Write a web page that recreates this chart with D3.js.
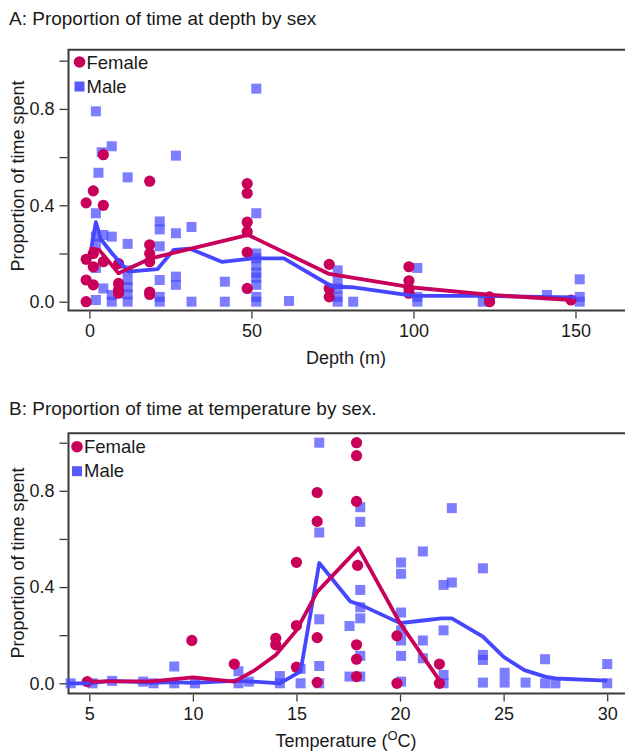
<!DOCTYPE html>
<html>
<head>
<meta charset="utf-8">
<script src="https://cdn.jsdelivr.net/npm/d3@7.9.0/dist/d3.min.js"></script>
<style>
  html, body { margin: 0; padding: 0; background: #fff; }
  svg { display: block; font-family: 'Liberation Sans', Arial, sans-serif; }
</style>
</head>
<body>
<div id="chart"></div>
<script>
// ---- data: panel A (depth, m) ----
const depthFemale = [
  [-1, 0.41], [-1, 0.176], [-1, 0.09], [-1, 0.0],
  [1.2, 0.46], [1.2, 0.2], [1.2, 0.145], [1.2, 0.07],
  [4.3, 0.61], [4.3, 0.4], [4.3, 0.166],
  [9, 0.158], [9, 0.076], [9, 0.05], [9, 0.035],
  [18.6, 0.5], [18.6, 0.236], [18.6, 0.2], [18.6, 0.166], [18.6, 0.04], [18.6, 0.03],
  [48.7, 0.49], [48.7, 0.45], [48.7, 0.33], [48.7, 0.29], [48.7, 0.205], [48.7, 0.055],
  [74, 0.155], [74, 0.055], [74, 0.02],
  [98.6, 0.145], [98.6, 0.087], [98.6, 0.055], [98.6, 0.035],
  [123.5, 0.02], [123.5, 0.0],
  [148.6, 0.007]
];
const depthMale = [
  [2, 0.79], [2, 0.367], [2, 0.27], [2, 0.24], [2, 0.14], [2, 0.007],
  [3.8, 0.62], [2.8, 0.535], [4.3, 0.277], [4.3, 0.055],
  [6.9, 0.645], [6.9, 0.27], [6.9, 0.028], [6.9, 0.0],
  [11.8, 0.516], [11.8, 0.24], [11.8, 0.13], [11.8, 0.09], [11.8, 0.06], [11.8, 0.03], [11.8, 0.0],
  [21.7, 0.333], [21.7, 0.3], [21.7, 0.23], [21.7, 0.09], [21.7, 0.02], [21.7, 0.0],
  [26.7, 0.606], [26.7, 0.284], [26.7, 0.104], [26.7, 0.07],
  [31.5, 0.31], [31.5, 0.0],
  [41.8, 0.083], [41.8, 0.0],
  [51.5, 0.884], [51.5, 0.367], [51.5, 0.2], [51.5, 0.18], [51.5, 0.15], [51.5, 0.12],
  [51.5, 0.1], [51.5, 0.07], [51.5, 0.02], [51.5, 0.0],
  [61.6, 0.003],
  [76.6, 0.13], [76.6, 0.09], [76.6, 0.055], [76.6, 0.02], [76.6, 0.0],
  [81.4, 0.0],
  [101.2, 0.14], [101.2, 0.02], [101.2, 0.0],
  [121.4, 0.0],
  [141.2, 0.028],
  [151.3, 0.093], [151.3, 0.02], [151.3, 0.0]
];
const depthFemaleLine = [
  [0, 0.222], [3, 0.215], [9, 0.118], [19, 0.18], [49, 0.277],
  [74, 0.115], [99, 0.06], [124, 0.028], [149, 0.007]
];
const depthMaleLine = [
  [0.7, 0.23], [2, 0.33], [3.5, 0.26], [7, 0.2], [12, 0.125], [21, 0.135],
  [26, 0.215], [31, 0.22], [41, 0.165], [50.5, 0.18], [60, 0.18],
  [75, 0.062], [81, 0.06], [100, 0.024], [121, 0.024], [150, 0.018]
];

// ---- data: panel B (temperature, C) ----
const tempFemale = [
  [4.9, 0.007], [9.95, 0.178], [12, 0.08],
  [14, 0.187], [14, 0.16],
  [15, 0.503], [15, 0.24], [15, 0.067],
  [16, 0.793], [16, 0.673], [16, 0.19], [16, 0.004],
  [17.9, 1.0], [17.9, 0.946], [17.9, 0.756], [17.95, 0.49], [17.9, 0.16], [17.9, 0.1], [17.9, 0.028],
  [19.85, 0.197], [19.85, 0.0],
  [21.9, 0.08], [21.9, 0.0]
];
const tempMale = [
  [4.1, 0.0], [5.16, 0.0], [6.1, 0.01], [7.6, 0.007], [8.1, 0.0],
  [9.1, 0.07], [9.1, 0.0], [10.1, 0.0],
  [12.2, 0.05], [12.2, 0.0], [12.7, 0.007],
  [14.2, 0.03], [14.2, 0.0],
  [15.2, 0.06], [15.2, 0.0],
  [16.1, 1.0], [16.1, 0.627], [16.1, 0.266], [16.1, 0.072], [16.1, 0.0],
  [17.56, 0.238], [17.56, 0.028],
  [18.08, 0.732], [18.08, 0.671], [18.08, 0.388], [18.08, 0.316], [18.08, 0.27],
  [18.08, 0.114], [18.08, 0.028],
  [20.05, 0.502], [20.05, 0.455], [20.05, 0.294], [20.05, 0.22], [20.05, 0.178],
  [20.05, 0.114], [20.05, 0.007],
  [21.1, 0.548], [21.1, 0.178], [21.1, 0.104],
  [22.1, 0.409], [22.1, 0.22], [22.1, 0.035], [22.1, 0.0],
  [22.5, 0.728], [22.5, 0.419],
  [24.0, 0.478], [24.0, 0.118], [24.0, 0.097], [24.0, 0.003],
  [25.05, 0.044], [25.05, 0.003],
  [26.06, 0.003],
  [27.0, 0.1], [27.0, 0.0], [27.5, 0.0],
  [30.0, 0.08], [30.0, 0.0]
];
const tempFemaleLine = [
  [5, 0.007], [6, 0.008], [8, 0.008], [10, 0.025], [12, 0.007], [13, 0.055],
  [14, 0.118], [15, 0.22], [16, 0.38], [18, 0.562], [20, 0.25], [22, 0.0]
];
const tempMaleLine = [
  [4, 0.0], [5, 0.0], [6, 0.01], [7.6, 0.005], [8, 0.002], [9, 0.005], [10, 0.002],
  [12, 0.01], [12.7, 0.008], [14.2, 0.0], [15.2, 0.05], [16.1, 0.5], [17.6, 0.34],
  [18.1, 0.326], [20, 0.25], [21, 0.26], [22, 0.27], [22.5, 0.27], [24, 0.194],
  [25, 0.11], [26, 0.055], [27, 0.028], [27.5, 0.02], [30, 0.011]
];

const yTicks = [0, 0.2, 0.4, 0.6, 0.8, 1.0];
const yTickLabels = [0, 0.4, 0.8];
const depthTicks = [0, 50, 100, 150];
const tempTicks = [5, 10, 15, 20, 25, 30];
const legendLabels = ['Female', 'Male'];

const femaleColor = '#c8005a';
const maleColor = '#4646ff';

const width = 625, height = 753;
const svg = d3.select('#chart').append('svg')
  .attr('width', width).attr('height', height);

function drawPanel(cfg) {
  const x = d3.scaleLinear().domain(cfg.xDomain).range(cfg.xRange);
  const y = d3.scaleLinear().domain([0, 1]).range(cfg.yRange);
  const left = 68.5, right = 660;
  const top = y(cfg.yTop), bottom = y(cfg.yBottom);
  const g = svg.append('g');

  // title
  g.append('text')
    .attr('x', 9).attr('y', cfg.titleY)
    .attr('font-size', 19).attr('fill', '#1a1a1a')
    .text(cfg.title);

  // frame
  g.append('path')
    .attr('d', `M${right},${top}H${left}V${bottom}H${right}`)
    .attr('fill', 'none').attr('stroke', '#3a3a3a').attr('stroke-width', 2);

  // y axis
  const ya = g.append('g')
    .attr('transform', `translate(${left - 1},0)`)
    .call(d3.axisLeft(y).tickValues(yTicks).tickSize(8).tickPadding(5)
      .tickFormat(d => yTickLabels.includes(d) ? d3.format('.1f')(d) : ''));
  ya.select('.domain').remove();
  ya.selectAll('line').attr('stroke', '#3a3a3a').attr('stroke-width', 1.3);
  ya.selectAll('text').attr('font-size', 18).attr('fill', '#1a1a1a')
    .attr('font-family', 'Liberation Sans, Arial, sans-serif');

  // x axis
  const xa = g.append('g')
    .attr('transform', `translate(0,${bottom + 1})`)
    .call(d3.axisBottom(x).tickValues(cfg.xTicks).tickSize(7).tickPadding(6));
  xa.select('.domain').remove();
  xa.selectAll('line').attr('stroke', '#3a3a3a').attr('stroke-width', 1.3);
  xa.selectAll('text').attr('font-size', 18).attr('fill', '#1a1a1a')
    .attr('font-family', 'Liberation Sans, Arial, sans-serif');

  // axis titles
  g.append('text')
    .attr('transform', `translate(24,${cfg.yLabelY}) rotate(-90)`)
    .attr('text-anchor', 'middle').attr('font-size', 18).attr('fill', '#1a1a1a')
    .text('Proportion of time spent');

  const xl = g.append('text')
    .attr('x', 346).attr('y', cfg.xLabelY)
    .attr('text-anchor', 'middle').attr('font-size', 18).attr('fill', '#1a1a1a');
  cfg.xLabel(xl);

  // male squares
  const s = 10;
  g.append('g').selectAll('rect')
    .data(cfg.male)
    .join('rect')
    .attr('x', d => x(d[0]) - s / 2)
    .attr('y', d => y(d[1]) - s / 2)
    .attr('width', s).attr('height', s)
    .attr('fill', maleColor).attr('fill-opacity', 0.7);

  // female circles
  g.append('g').selectAll('circle')
    .data(cfg.female)
    .join('circle')
    .attr('cx', d => x(d[0]))
    .attr('cy', d => y(d[1]))
    .attr('r', 5.6)
    .attr('fill', femaleColor);

  const line = d3.line().x(d => x(d[0])).y(d => y(d[1]));
  g.append('path').datum(cfg.maleLine)
    .attr('d', line).attr('fill', 'none')
    .attr('stroke', maleColor).attr('stroke-width', 3.8)
    .attr('stroke-linejoin', 'round');
  g.append('path').datum(cfg.femaleLine)
    .attr('d', line).attr('fill', 'none')
    .attr('stroke', femaleColor).attr('stroke-width', 3.8)
    .attr('stroke-linejoin', 'round');

  // legend
  const lg = g.append('g').attr('transform', `translate(${cfg.legendX},${cfg.legendY})`);
  lg.append('circle').attr('cx', 0).attr('cy', 0).attr('r', 5.8).attr('fill', femaleColor);
  lg.append('rect').attr('x', -5).attr('y', 19.5).attr('width', 10).attr('height', 10)
    .attr('fill', maleColor).attr('fill-opacity', 0.9);
  lg.selectAll('text.leg')
    .data(legendLabels)
    .join('text')
    .attr('class', 'leg')
    .attr('x', 7).attr('y', (d, i) => 6.5 + i * 24)
    .attr('font-size', 18.5).attr('fill', '#1a1a1a')
    .text(d => d);
}

drawPanel({
  title: 'A: Proportion of time at depth by sex',
  titleY: 25,
  xDomain: [0, 150], xRange: [89.4, 575.5], xTicks: depthTicks,
  yRange: [301.7, 60.7], yTop: 1.0456, yBottom: -0.0365,
  yLabelY: 176, xLabelY: 364,
  xLabel: t => t.text('Depth (m)'),
  female: depthFemale, male: depthMale,
  femaleLine: depthFemaleLine, maleLine: depthMaleLine,
  legendX: 79.5, legendY: 62
});

drawPanel({
  title: 'B: Proportion of time at temperature by sex.',
  titleY: 415,
  xDomain: [5, 30], xRange: [89.3, 607.2], xTicks: tempTicks,
  yRange: [683.3, 442.7], yTop: 1.039, yBottom: -0.0428,
  yLabelY: 563, xLabelY: 747,
  xLabel: t => {
    t.append('tspan').text('Temperature (');
    t.append('tspan').attr('font-size', 13).attr('dy', -7).text('O');
    t.append('tspan').attr('dy', 7).text('C)');
  },
  female: tempFemale, male: tempMale,
  femaleLine: tempFemaleLine, maleLine: tempMaleLine,
  legendX: 77, legendY: 446.7
});
</script>
</body>
</html>
